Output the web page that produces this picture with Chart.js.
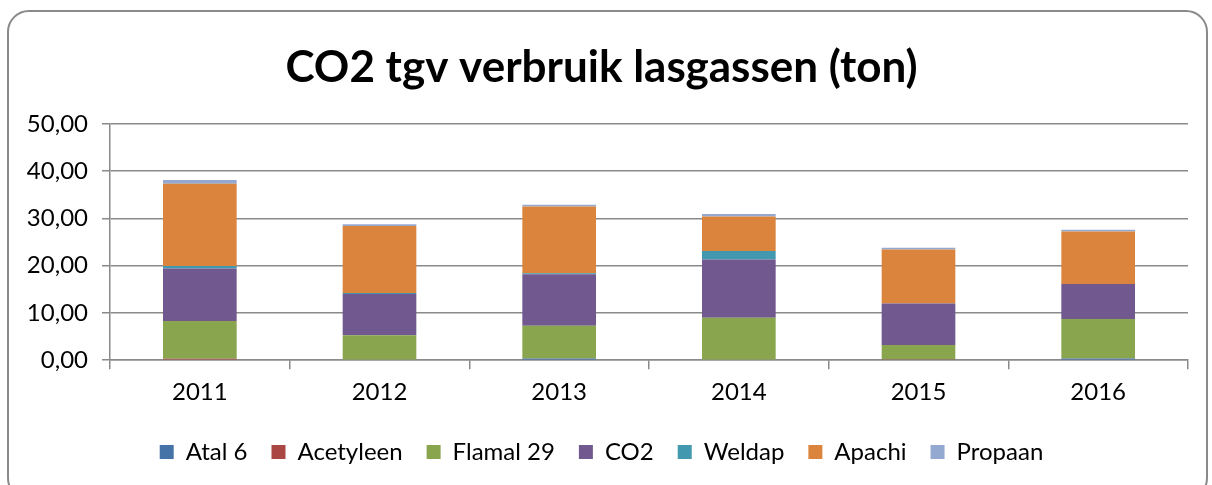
<!DOCTYPE html>
<html>
<head>
<meta charset="utf-8">
<script src="https://cdn.jsdelivr.net/npm/chart.js@4/dist/chart.umd.min.js"></script>
<style>
  html, body { margin:0; padding:0; background:#fff; }
  #wrap { position:relative; width:1212px; height:485px; overflow:hidden; }
  #frame { position:absolute; left:7px; top:10px; width:1201px; height:490px; border:2px solid #8a8a8a; border-radius:22px; box-sizing:border-box; }
  #chart { position:absolute; left:0; top:0; }
</style>
</head>
<body>
<div id="wrap">
  <div id="frame"></div>
  <canvas id="chart" width="1212" height="485"></canvas>
</div>
<script>
const years = ['2011', '2012', '2013', '2014', '2015', '2016'];

// ton CO2 per gas
const atal6     = [0,    0,    0.35, 0,    0,    0.35];
const acetyleen = [0.3,  0,    0,    0,    0.2,  0];
const flamal29  = [8.0,  5.3,  6.95, 9.0,  3.0,  8.35];
const co2       = [11.1, 8.7,  10.9, 12.3, 8.8,  7.4];
const weldap    = [0.5,  0.2,  0.2,  1.8,  0,    0];
const apachi    = [17.4, 14.2, 14.1, 7.3,  11.4, 11.1];
const propaan   = [0.8,  0.35, 0.4,  0.5,  0.4,  0.4];

const yTicks = [0, 10, 20, 30, 40, 50];

const series = [
  { label: 'Atal 6',    data: atal6,     color: '#4573A7' },
  { label: 'Acetyleen', data: acetyleen, color: '#AA4643' },
  { label: 'Flamal 29', data: flamal29,  color: '#89A54E' },
  { label: 'CO2',       data: co2,       color: '#71588F' },
  { label: 'Weldap',    data: weldap,    color: '#4198AF' },
  { label: 'Apachi',    data: apachi,    color: '#DB843D' },
  { label: 'Propaan',   data: propaan,   color: '#93A9CF' },
];

const gridColor = '#8a8a8a';
const font = 'Lato';

new Chart(document.getElementById('chart'), {
  type: 'bar',
  data: {
    labels: years,
    datasets: series.map((s) => ({
      label: s.label,
      data: s.data,
      backgroundColor: s.color,
      borderWidth: 0,
      categoryPercentage: 1,
      barPercentage: 0.41,
    })),
  },
  options: {
    responsive: false,
    animation: false,
    layout: { padding: { left: 15, right: 24, top: 10, bottom: 11 } },
    plugins: {
      title: {
        display: true,
        text: 'CO2 tgv verbruik lasgassen (ton)',
        color: '#000',
        font: { family: font, size: 44, weight: 'bold' },
        padding: { top: 31, bottom: 30 },
      },
      legend: {
        position: 'bottom',
        labels: {
          color: '#000',
          font: { family: font, size: 24 },
          boxWidth: 14,
          boxHeight: 14,
          padding: 24,
        },
      },
      tooltip: { enabled: false },
    },
    scales: {
      x: {
        stacked: true,
        grid: { drawOnChartArea: false, drawTicks: true, tickLength: 9, color: gridColor, lineWidth: 1.5 },
        border: { color: gridColor, width: 1.5 },
        ticks: { color: '#000', font: { family: font, size: 24 }, padding: 9 },
      },
      y: {
        stacked: true,
        min: 0,
        max: 50,
        afterFit: (scale) => { scale.width = 95; },
        afterBuildTicks: (scale) => { scale.ticks = yTicks.map((v) => ({ value: v })); },
        grid: { color: gridColor, lineWidth: 1.5, tickLength: 8 },
        border: { color: gridColor, width: 1.5 },
        ticks: {
          color: '#000',
          font: { family: font, size: 24 },
          padding: 14,
          callback: (v) => v.toFixed(2).replace('.', ','),
        },
      },
    },
  },
});
</script>
</body>
</html>
